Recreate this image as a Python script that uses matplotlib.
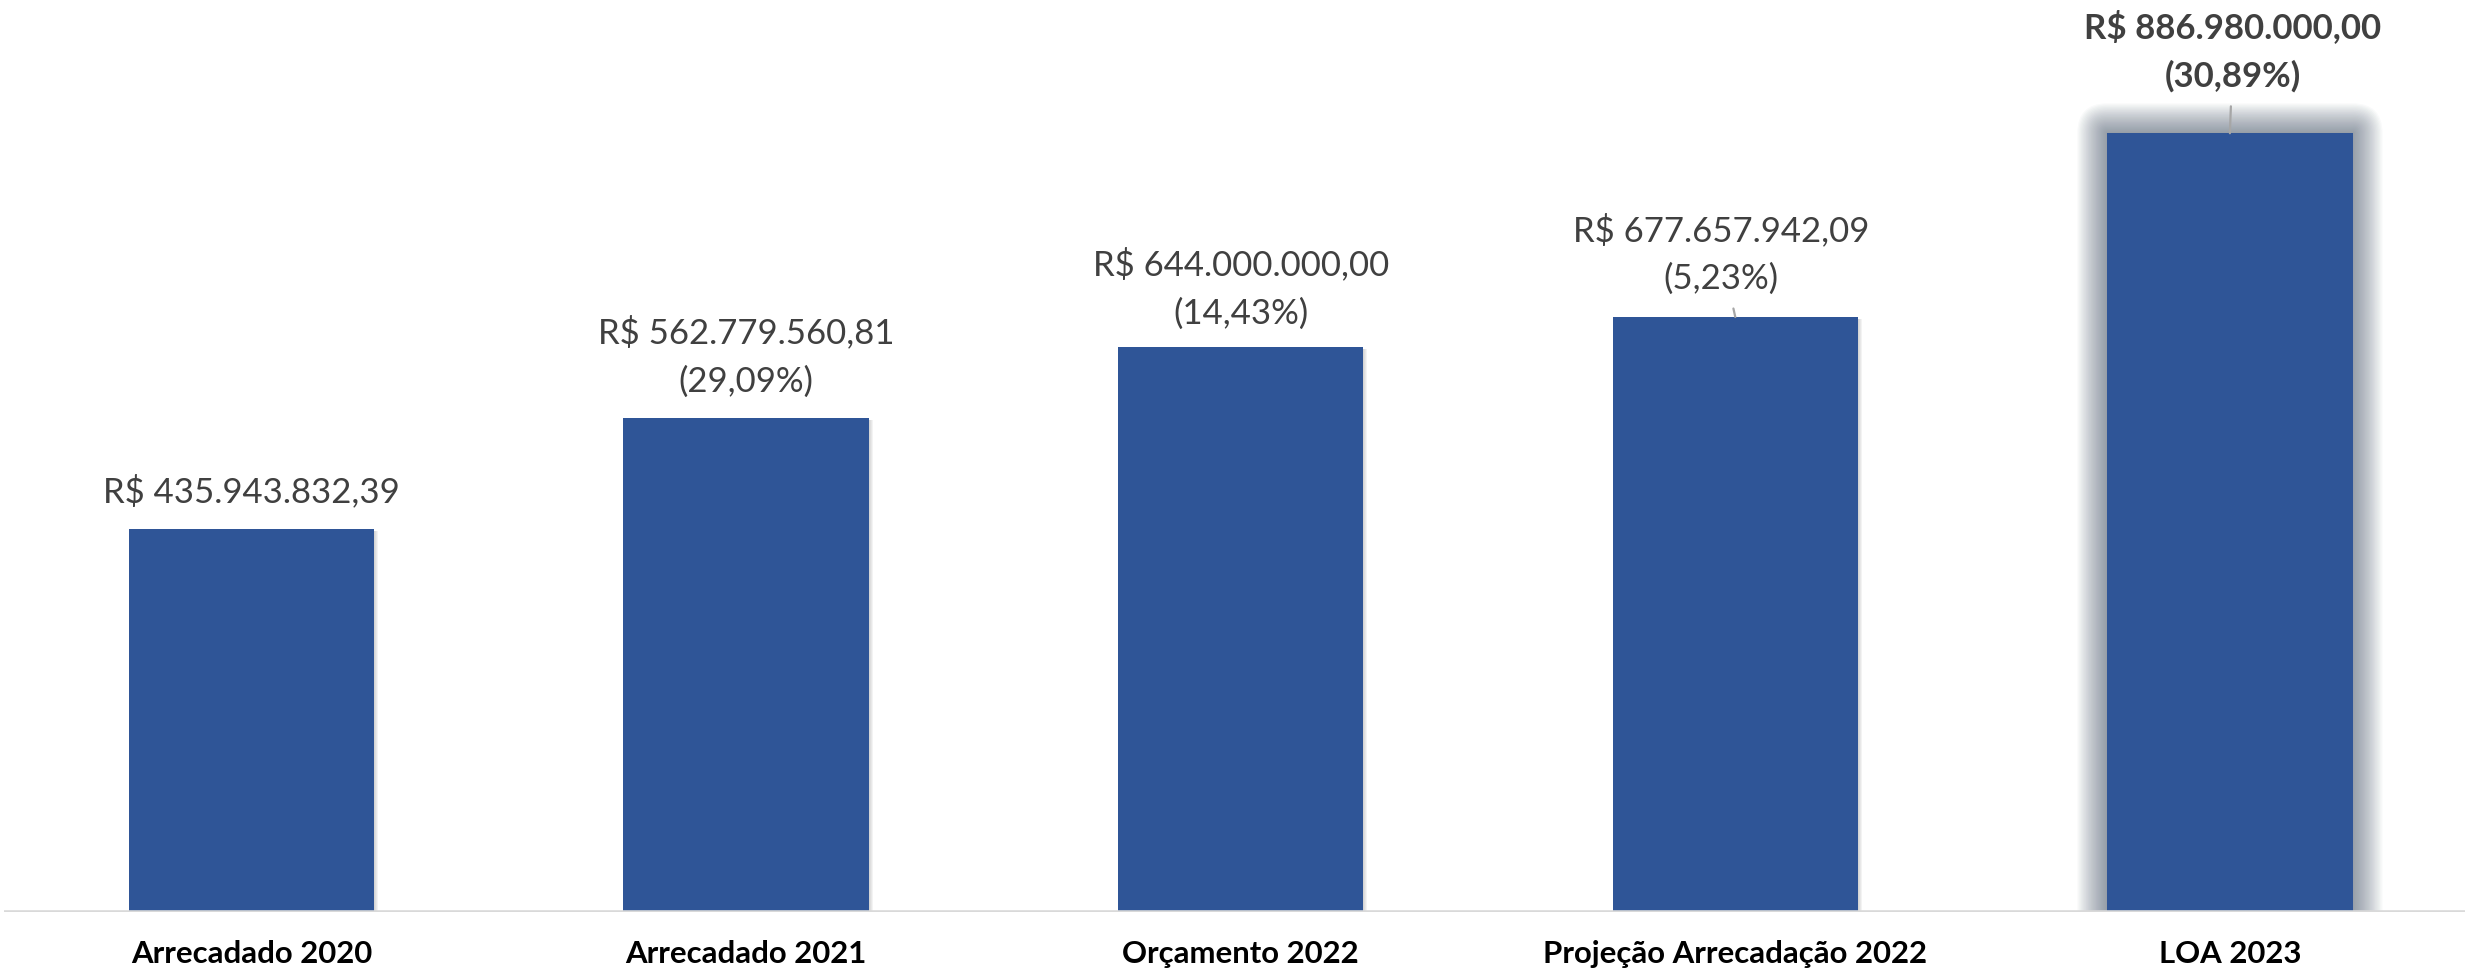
import numpy as np
import matplotlib.pyplot as plt
from matplotlib.patches import Rectangle, FancyBboxPatch

categorias = ['Arrecadado 2020', 'Arrecadado 2021', 'Orçamento 2022',
              'Projeção Arrecadação 2022', 'LOA 2023']
valores = [435943832.39, 562779560.81, 644000000.00, 677657942.09, 886980000.00]
rotulos = ['R$ 435.943.832,39',
           'R$ 562.779.560,81\n(29,09%)',
           'R$ 644.000.000,00\n(14,43%)',
           'R$ 677.657.942,09\n(5,23%)',
           'R$ 886.980.000,00\n(30,89%)']

W, H = 2465, 972
fig = plt.figure(figsize=(W / 100, H / 100), dpi=100)
# axes placed in pixels: baseline at y=912 from top, 494.6 px per category
ax = fig.add_axes([4.2 / W, 60 / H, 2473 / W, 912 / H])
ax.set_xlim(-0.5, 4.5)
ax.set_ylim(0, 912 / 0.878 * 1e6)

cor = '#2F5597'
x = np.arange(len(valores))
largura = 0.496
px_x = 1 / 494.6          # data units per pixel, x
px_y = 1e6 / 0.878        # data units per pixel, y

# soft glow behind the last bar (rounded, fading outwards)
n = 24
for k in range(n, 0, -1):
    d = 30 * k / n
    ax.add_patch(FancyBboxPatch((x[4] - largura / 2, -1e7), largura, valores[4] + 1e7,
                                boxstyle=f'round,pad={d * px_x},rounding_size={d * px_x}',
                                mutation_aspect=px_y / px_x,
                                facecolor='#3c4a60', edgecolor='none', alpha=0.028, zorder=1))
# slight shadow to the right of the other bars
for i in range(4):
    for k in range(1, 5):
        ax.add_patch(Rectangle((x[i] - largura / 2 + k * px_x, 0), largura,
                               valores[i] - 2 * px_y,
                               facecolor='#707070', edgecolor='none', alpha=0.08, zorder=1))

ax.bar(x, valores, width=largura, color=cor, zorder=2)

# label offsets (pixels) from the top of each bar
offs = [(0, 38), (0, 61), (0, 58), (-14, 63), (3, 82)]
for i, (v, t) in enumerate(zip(valores, rotulos)):
    bold = (i == 4)
    arrow = None
    if i >= 3:
        arrow = dict(arrowstyle='-', color='#a6a6a6', lw=1.6, shrinkA=8, shrinkB=0)
    ax.annotate(t, xy=(x[i], v), xytext=offs[i], textcoords='offset pixels',
                ha='center', va='center', fontsize=25, color='#404040',
                fontweight='bold' if bold else 'normal', family='Lato',
                linespacing=1.6, arrowprops=arrow, zorder=3)

ax.axhline(0, color='#d9d9d9', lw=2.6, zorder=3)
ax.set_xticks(x)
ax.set_xticklabels(categorias, fontsize=22.4, fontweight='bold', family='Lato', color='black')
ax.tick_params(axis='x', length=0, pad=20)
ax.set_yticks([])
for s in ax.spines.values():
    s.set_visible(False)

fig.savefig('out.png', dpi=100)
